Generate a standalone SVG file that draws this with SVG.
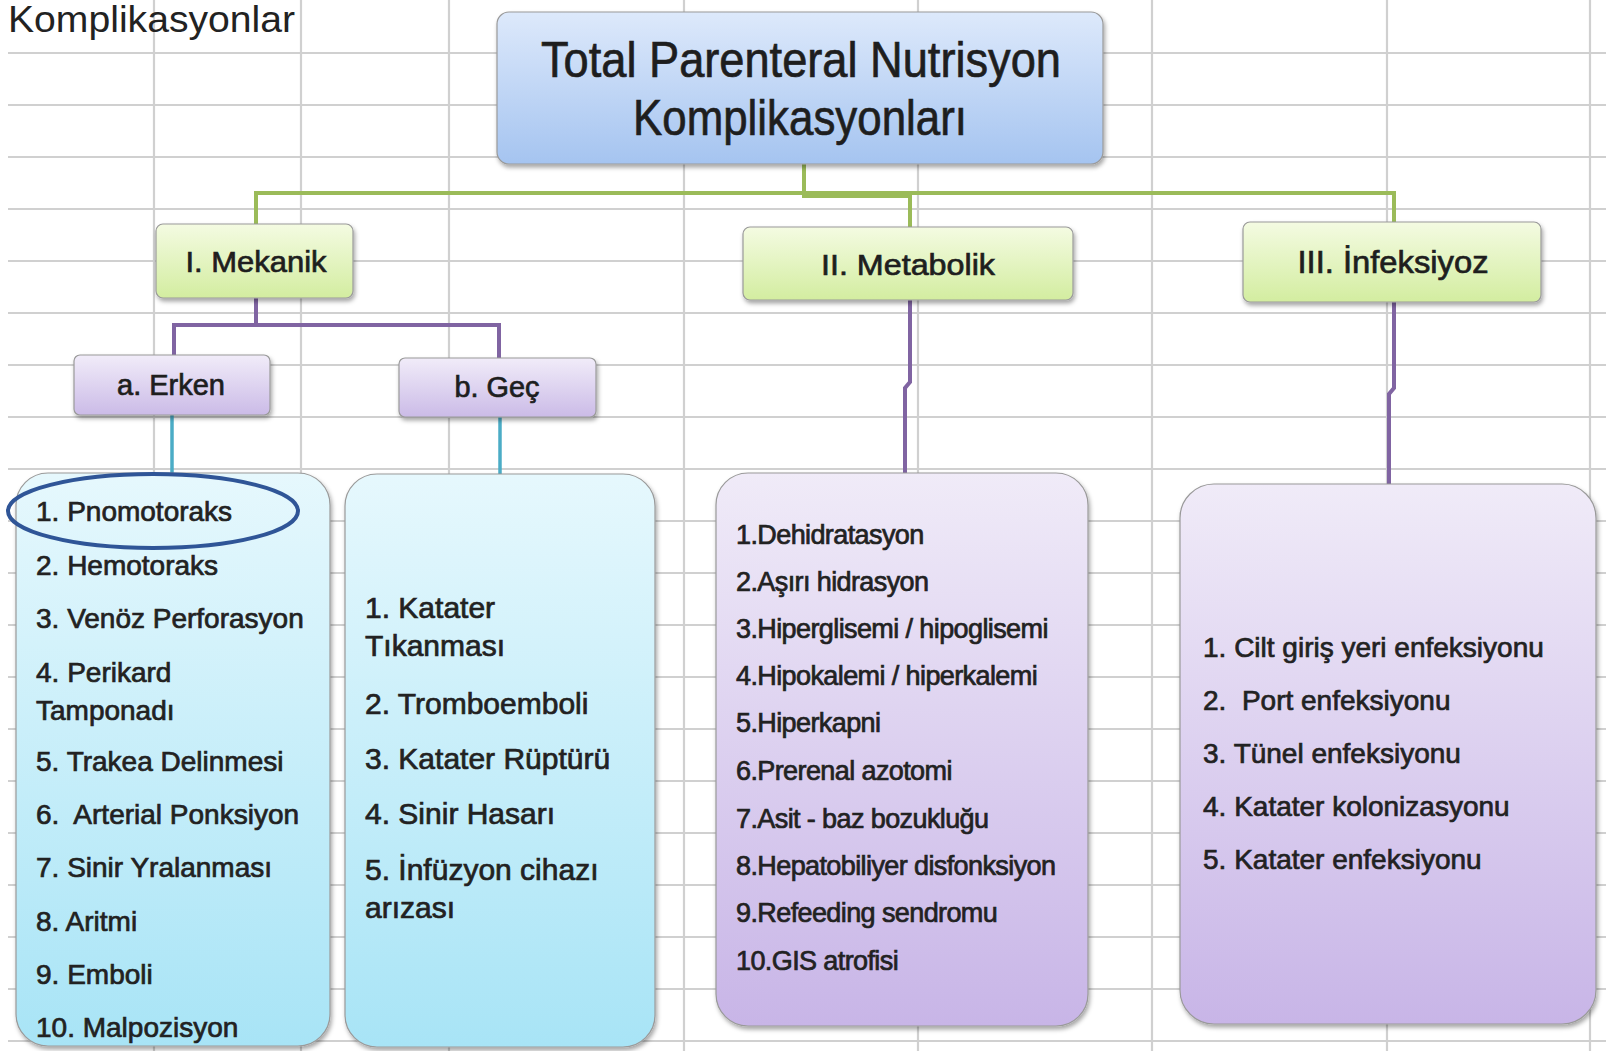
<svg xmlns="http://www.w3.org/2000/svg" width="1606" height="1051" viewBox="0 0 1606 1051">
<defs>
<linearGradient id="gBlue" x1="0" y1="0" x2="0" y2="1"><stop offset="0" stop-color="#dde9fb"/><stop offset="1" stop-color="#a5c4f0"/></linearGradient>
<linearGradient id="gGreen" x1="0" y1="0" x2="0" y2="1"><stop offset="0" stop-color="#f4fbe2"/><stop offset="1" stop-color="#d3eda0"/></linearGradient>
<linearGradient id="gLav" x1="0" y1="0" x2="0" y2="1"><stop offset="0" stop-color="#f1ecf9"/><stop offset="1" stop-color="#cbbbe7"/></linearGradient>
<linearGradient id="gLavBig" x1="0" y1="0" x2="0" y2="1"><stop offset="0" stop-color="#f0ebf8"/><stop offset="1" stop-color="#c8b5e7"/></linearGradient>
<linearGradient id="gCyan" x1="0" y1="0" x2="0" y2="1"><stop offset="0" stop-color="#e6f8fd"/><stop offset="1" stop-color="#a8e4f6"/></linearGradient>
<filter id="sh" x="-10%" y="-10%" width="120%" height="125%"><feDropShadow dx="1.5" dy="3" stdDeviation="2" flood-color="#000" flood-opacity="0.35"/></filter>
</defs>
<style>
.grid line{stroke:#d0d0d0;stroke-width:2.2}
.box{stroke:#9a9a9a;stroke-width:1.2;filter:url(#sh)}
.t{font-family:"Liberation Sans",Arial,sans-serif;fill:#1e1e1e;stroke:#1e1e1e;stroke-width:0.7}
.c{text-anchor:middle}
.item{font-family:"Liberation Sans",Arial,sans-serif;fill:#222;stroke:#222;stroke-width:0.7}
.green{fill:none;stroke:#9bbb59;stroke-width:4}
.purple{fill:none;stroke:#8064a2;stroke-width:4}
.cyan{fill:none;stroke:#4bacc6;stroke-width:3.5}
</style>
<rect width="1606" height="1051" fill="#ffffff"/>
<g class="grid">
<line x1="8" y1="53" x2="1606" y2="53"/><line x1="8" y1="105" x2="1606" y2="105"/><line x1="8" y1="157" x2="1606" y2="157"/><line x1="8" y1="209" x2="1606" y2="209"/><line x1="8" y1="261" x2="1606" y2="261"/><line x1="8" y1="313" x2="1606" y2="313"/><line x1="8" y1="365" x2="1606" y2="365"/><line x1="8" y1="417" x2="1606" y2="417"/><line x1="8" y1="469" x2="1606" y2="469"/><line x1="8" y1="521" x2="1606" y2="521"/><line x1="8" y1="573" x2="1606" y2="573"/><line x1="8" y1="625" x2="1606" y2="625"/><line x1="8" y1="677" x2="1606" y2="677"/><line x1="8" y1="729" x2="1606" y2="729"/><line x1="8" y1="781" x2="1606" y2="781"/><line x1="8" y1="833" x2="1606" y2="833"/><line x1="8" y1="885" x2="1606" y2="885"/><line x1="8" y1="937" x2="1606" y2="937"/><line x1="8" y1="989" x2="1606" y2="989"/><line x1="8" y1="1041" x2="1606" y2="1041"/>
<line x1="154" y1="0" x2="154" y2="1051"/><line x1="301" y1="0" x2="301" y2="1051"/><line x1="449" y1="0" x2="449" y2="1051"/><line x1="684" y1="0" x2="684" y2="1051"/><line x1="918" y1="0" x2="918" y2="1051"/><line x1="1152" y1="0" x2="1152" y2="1051"/><line x1="1387" y1="0" x2="1387" y2="1051"/><line x1="1590" y1="0" x2="1590" y2="1051"/>
</g>
<text x="8" y="32" font-family="Liberation Sans, Arial, sans-serif" font-size="37" fill="#222" textLength="287" lengthAdjust="spacingAndGlyphs">Komplikasyonlar</text>
<g id="connectors">
<path class="green" d="M256,224 V193 H1394 V222"/>
<path class="green" d="M804,164 V196 H910 V227"/>
<path class="purple" d="M256,298 V325"/>
<path class="purple" d="M174,355 V325 H499 V358"/>
<path class="purple" d="M910,300 V382 L905,388 V473"/>
<path class="purple" d="M1394,302 V388 L1389,394 V484"/>
<path class="cyan" d="M172,415 V473"/>
<path class="cyan" d="M500,417 V474"/>
</g>
<g id="title">
<rect class="box" x="497" y="12" width="606" height="152" rx="12" fill="url(#gBlue)"/>
<text class="t c" x="801" y="77" font-size="50" textLength="520" lengthAdjust="spacingAndGlyphs">Total Parenteral Nutrisyon</text>
<text class="t c" x="800" y="135" font-size="50" textLength="334" lengthAdjust="spacingAndGlyphs">Komplikasyonları</text>
</g>
<g id="mekanik">
<rect class="box" x="156" y="224" width="197" height="74" rx="7" fill="url(#gGreen)"/>
<text class="t c" x="256" y="272" font-size="30" textLength="141" lengthAdjust="spacingAndGlyphs">I. Mekanik</text>
</g>
<g id="metabolik">
<rect class="box" x="743" y="227" width="330" height="73" rx="7" fill="url(#gGreen)"/>
<text class="t c" x="908" y="275" font-size="30" textLength="174" lengthAdjust="spacingAndGlyphs">II. Metabolik</text>
</g>
<g id="infeksiyoz">
<rect class="box" x="1243" y="222" width="298" height="80" rx="7" fill="url(#gGreen)"/>
<text class="t c" x="1393" y="273" font-size="31" textLength="191" lengthAdjust="spacingAndGlyphs">III. İnfeksiyoz</text>
</g>
<g id="erken">
<rect class="box" x="74" y="355" width="196" height="60" rx="6" fill="url(#gLav)"/>
<text class="t c" x="171" y="395" font-size="29" textLength="108" lengthAdjust="spacingAndGlyphs">a. Erken</text>
</g>
<g id="gec">
<rect class="box" x="399" y="358" width="197" height="59" rx="6" fill="url(#gLav)"/>
<text class="t c" x="497" y="397" font-size="29" textLength="85" lengthAdjust="spacingAndGlyphs">b. Geç</text>
</g>
<g id="list-erken">
<rect class="box" x="16" y="473" width="314" height="573" rx="32" fill="url(#gCyan)"/>
<g class="item" font-size="28">
<text x="36" y="521">1. Pnomotoraks</text>
<text x="36" y="575">2. Hemotoraks</text>
<text x="36" y="628">3. Venöz Perforasyon</text>
<text x="36" y="682">4. Perikard</text>
<text x="36" y="720">Tamponadı</text>
<text x="36" y="771">5. Trakea Delinmesi</text>
<text x="36" y="824" xml:space="preserve">6.  Arterial Ponksiyon</text>
<text x="36" y="877">7. Sinir Yralanması</text>
<text x="36" y="931">8. Aritmi</text>
<text x="36" y="984">9. Emboli</text>
<text x="36" y="1037">10. Malpozisyon</text>
</g>
</g>
<g id="list-gec">
<rect class="box" x="345" y="474" width="310" height="573" rx="32" fill="url(#gCyan)"/>
<g class="item" font-size="30">
<text x="365" y="618">1. Katater</text>
<text x="365" y="656">Tıkanması</text>
<text x="365" y="714">2. Tromboemboli</text>
<text x="365" y="769">3. Katater Rüptürü</text>
<text x="365" y="824">4. Sinir Hasarı</text>
<text x="365" y="880">5. İnfüzyon cihazı</text>
<text x="365" y="918">arızası</text>
</g>
</g>
<g id="list-metabolik">
<rect class="box" x="716" y="473" width="372" height="553" rx="32" fill="url(#gLavBig)"/>
<g class="item" font-size="27" letter-spacing="-0.6">
<text x="736" y="544">1.Dehidratasyon</text>
<text x="736" y="591">2.Aşırı hidrasyon</text>
<text x="736" y="638">3.Hiperglisemi / hipoglisemi</text>
<text x="736" y="685">4.Hipokalemi / hiperkalemi</text>
<text x="736" y="732">5.Hiperkapni</text>
<text x="736" y="780">6.Prerenal azotomi</text>
<text x="736" y="828">7.Asit - baz bozukluğu</text>
<text x="736" y="875">8.Hepatobiliyer disfonksiyon</text>
<text x="736" y="922">9.Refeeding sendromu</text>
<text x="736" y="970">10.GIS atrofisi</text>
</g>
</g>
<g id="list-infeksiyoz">
<rect class="box" x="1180" y="484" width="416" height="540" rx="34" fill="url(#gLavBig)"/>
<g class="item" font-size="28">
<text x="1203" y="657">1. Cilt giriş yeri enfeksiyonu</text>
<text x="1203" y="710" xml:space="preserve">2.  Port enfeksiyonu</text>
<text x="1203" y="763">3. Tünel enfeksiyonu</text>
<text x="1203" y="816">4. Katater kolonizasyonu</text>
<text x="1203" y="869">5. Katater enfeksiyonu</text>
</g>
</g>
<ellipse cx="153" cy="511" rx="145" ry="37" fill="none" stroke="#2f5597" stroke-width="4"/>
</svg>
